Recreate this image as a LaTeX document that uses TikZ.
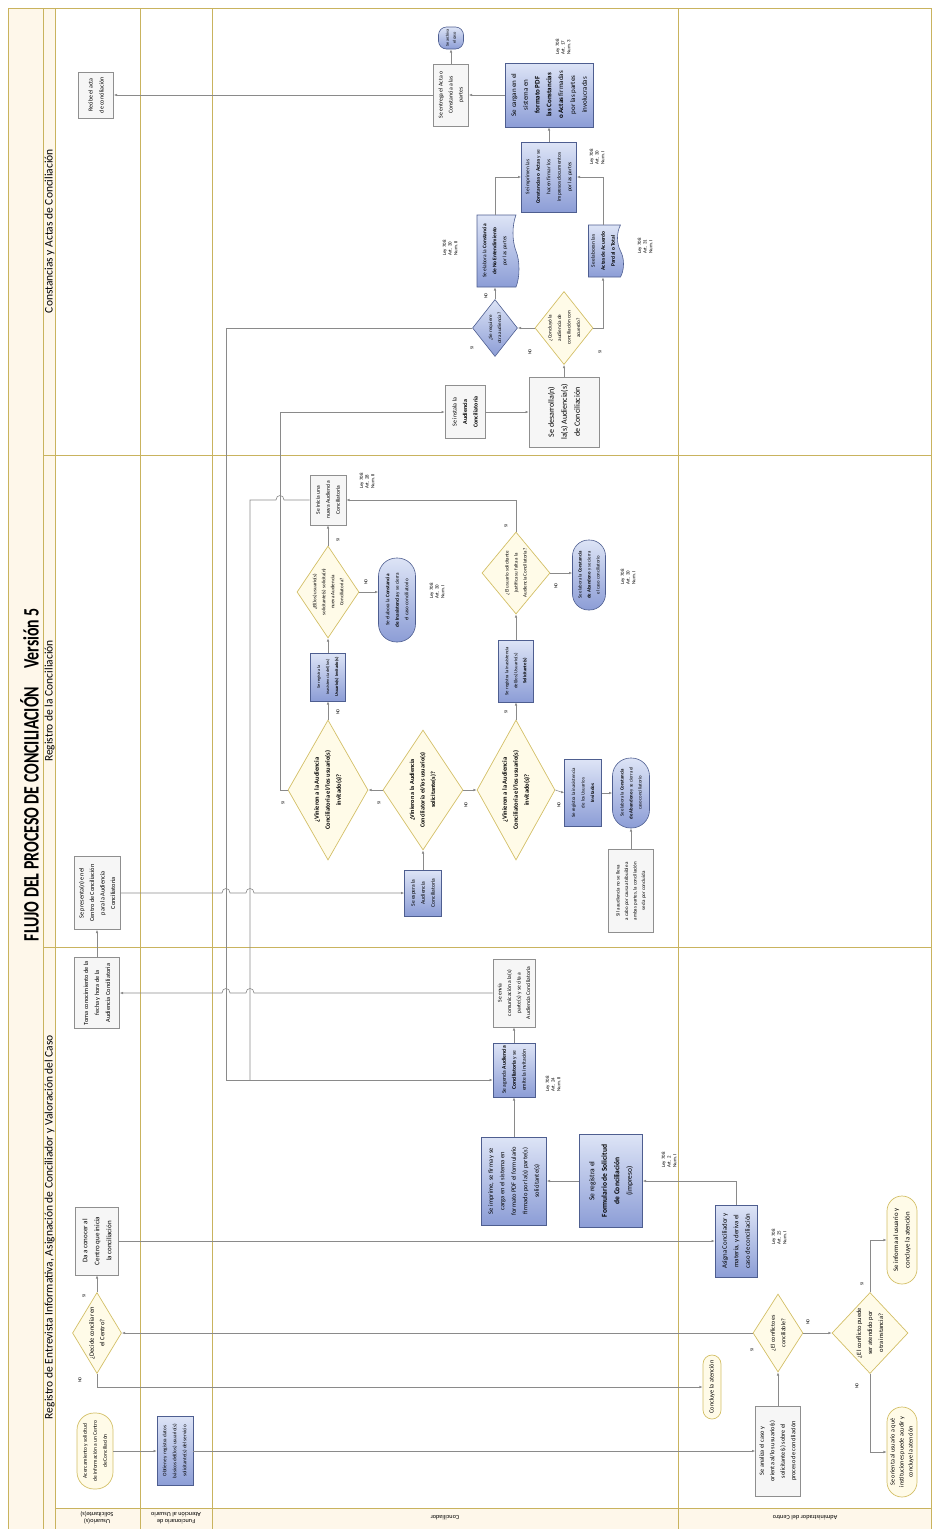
\documentclass[tikz,border=0pt]{standalone}
\usepackage{fontspec}
\setmainfont{Carlito}
\newfontfamily\titlefont{Carlito}[FakeStretch=0.72]
\usetikzlibrary{arrows.meta,shapes.geometric,shapes.symbols,calc}

\definecolor{lanec}{HTML}{C9B35E}
\definecolor{creamA}{HTML}{FEF7EA}
\definecolor{linec}{HTML}{8A8A8A}
\definecolor{bluelt}{HTML}{DDE4F6}
\definecolor{bluedk}{HTML}{8C9DD6}
\definecolor{bluebd}{HTML}{4E5E90}
\definecolor{graybd}{HTML}{8F8F8F}
\definecolor{grayfl}{HTML}{F6F6F6}
\definecolor{ybd}{HTML}{D3BF66}
\definecolor{yfl}{HTML}{FFFBE8}

\newcommand{\fsz}[2]{\fontsize{#1}{#2}\selectfont}

\tikzset{
  every node/.style={inner sep=1pt, align=center},
  rt/.style={rotate=90},
  sz/.style 2 args={minimum width=#1, minimum height=#2},
  bluebox/.style={rt, rectangle, draw=bluebd, line width=0.6pt, top color=bluelt, bottom color=bluedk},
  graybox/.style={rt, rectangle, draw=graybd, line width=0.6pt, fill=grayfl},
  blueterm/.style={bluebox, rounded corners=#1},
  yterm/.style={rt, rectangle, rounded corners=#1, draw=ybd, line width=0.7pt, fill=yfl},
  ydiam/.style={rt, diamond, draw=ybd, line width=0.7pt, fill=yfl, inner sep=0pt},
  bdiam/.style={rt, diamond, draw=bluebd, line width=0.6pt, top color=bluelt, bottom color=bluedk, inner sep=0pt},
  bluedoc/.style={rt, tape, tape bend top=none, tape bend bottom=in and out, tape bend height=6pt, draw=bluebd, line width=0.6pt, top color=bluelt, bottom color=bluedk},
  dtext/.style={rt, inner sep=0pt},
  yn/.style={rt, font=\fsz{4.5}{5}, inner sep=0pt},
  law/.style={rt, font=\fsz{4.9}{5.6}, align=left, inner sep=0pt},
  lane/.style={draw=lanec, line width=0.9pt},
  arr/.style={draw=linec, line width=0.6pt, -{Latex[length=3.2pt,width=2.6pt]}},
  conn/.style={draw=linec, line width=0.6pt},
}

\begin{document}
\begin{tikzpicture}[x=1pt,y=-1pt]
\useasboundingbox (0,0) rectangle (932,1529);

% ---------- swimlane frame ----------
\fill[creamA] (8,8) rectangle (55,1529);
\fill[creamA] (55,1508) rectangle (932,1529);
\draw[lane] (8,8) rectangle (931.5,1529);
\draw[lane] (43,8) -- (43,1529);
\draw[lane] (55,8) -- (55,1529);
\draw[lane] (140,8) -- (140,1529);
\draw[lane] (212,8) -- (212,1529);
\draw[lane] (678,8) -- (678,1529);
\draw[lane] (43,455) -- (932,455);
\draw[lane] (43,947) -- (932,947);
\draw[lane] (55,1508) -- (932,1508);

\node[rt, font=\titlefont\fontsize{22}{24}\selectfont\bfseries] (title) at (29.5,774.5)
  {FLUJO DEL PROCESO DE CONCILIACIÓN\hspace{18pt}Versión 5};
\node[rt, font=\fsz{11.5}{12}] (ph1) at (49.5,1227) {Registro de Entrevista Informativa, Asignación de Conciliador y Valoración del Caso};
\node[rt, font=\fsz{11.5}{12}] (ph2) at (49.5,701) {Registro de la Conciliación};
\node[rt, font=\fsz{11.5}{12}] (ph3) at (49.5,231) {Constancias y Actas de Conciliación};

\node[rotate=180, font=\fsz{6.3}{7.5}] (ln1) at (97,1518) {Usuario(s)\\Solicitante(s)};
\node[rotate=180, font=\fsz{6.3}{7.5}] (ln2) at (176,1518) {Funcionario de\\Atención al Usuario};
\node[rotate=180, font=\fsz{6.3}{7.5}] (ln3) at (445,1518) {Conciliador};
\node[rotate=180, font=\fsz{6.3}{7.5}] (ln4) at (805,1518) {Administrador del Centro};

% ---------- Registro de Entrevista ----------
\node[yterm=17, sz={76}{36}, font=\fsz{5.5}{10}] (U1) at (95,1451) {Acercamiento y solicitud\\de información a un Centro\\de Conciliación};
\node[bluebox, sz={69}{36}, font=\fsz{5.2}{10}] (F1) at (175,1451) {Obtiene y registra datos\\básicos del(los) usuario(s)\\solicitante(s) del servicio};
\node[graybox, sz={90}{45}, font=\fsz{6.3}{10.5}] (A1) at (778,1451) {Se analiza el caso y\\orienta al/los usuario(s)\\solicitante(s) sobre el\\proceso de conciliación};
\node[ydiam, sz={78}{50}] (A2) at (778,1333) {};
\node[dtext, font=\fsz{6}{10.5}] (A2t) at (A2) {¿El conflicto es\\conciliable?};
\node[ydiam, sz={81}{76}] (A3) at (870,1333) {};
\node[dtext, font=\fsz{6.5}{11}] (A3t) at (A3) {¿El conflicto puede\\ser atendido por\\otra instancia?};
\node[yterm=15, sz={88}{30}, font=\fsz{6.8}{11.5}] (A4) at (902,1240) {Se informa al usuario y\\concluye la atención};
\node[yterm=15, sz={90}{30}, font=\fsz{6.2}{9}] (A5) at (902,1452) {Se orienta al usuario a qué\\instituciones puede acudir y\\concluye la atención};
\node[yterm=9, sz={64}{18}, font=\fsz{6.3}{8}] (A6) at (712,1387) {Concluye la atención};
\node[bluebox, sz={72}{42}, font=\fsz{6.8}{11.5}] (A7) at (736,1241) {Asigna Conciliador y\\materia, y deriva el\\caso de conciliación};
\node[ydiam, sz={81}{49}] (U2) at (97,1333) {};
\node[dtext, font=\fsz{6.5}{10.5}] (U2t) at (U2) {¿Decide conciliar en\\el Centro?};
\node[graybox, sz={68}{43}, font=\fsz{7}{12}] (U3) at (97,1241) {Da a conocer al\\Centro que inicia\\la conciliación};
\node[bluebox, sz={93}{63}, font=\fsz{7.5}{12.5}] (C2) at (611,1181) {Se registra el\\\textbf{Formulario de Solicitud}\\\textbf{de Conciliación}\\(impreso)};
\node[bluebox, sz={88}{65}, font=\fsz{6.5}{11.5}] (C1) at (514,1181) {Se imprime, se firma y se\\carga en el sistema en\\formato PDF el formulario\\firmado por la(s) parte(s)\\solicitante(s)};
\node[bluebox, sz={54}{42}, font=\fsz{5.6}{10}] (C3) at (514,1070) {Se agenda \textbf{Audiencia}\\\textbf{Conciliatoria} y se\\emite la invitación};
\node[graybox, sz={68}{42}, font=\fsz{5.6}{9.5}] (C4) at (514,993) {Se envía\\comunicación a la(s)\\parte(s) y se cita a\\Audiencia Conciliatoria};
\node[graybox, sz={71}{45}, font=\fsz{6.3}{11}] (U4) at (97,993) {Toma conocimiento de la\\fecha y hora de la\\Audiencia Conciliatoria};
\node[graybox, sz={73}{46}, font=\fsz{6.3}{10.5}] (U5) at (97,893) {Se presenta(n) en el\\Centro de Conciliación\\para la Audiencia\\Conciliatoria};

% ---------- Registro de la Conciliación ----------
\node[bluebox, sz={46}{37}, font=\fsz{5.6}{10}] (R1) at (423,893) {Se espera la\\Audiencia\\Conciliatoria};
\node[ydiam, sz={120}{80}] (D1) at (423,790) {};
\node[dtext, font=\fsz{6.2}{10.5}\bfseries] (D1t) at (D1) {¿Vinieron a la Audiencia\\Conciliatoria el/los usuario(s)\\solicitante(s)?};
\node[ydiam, sz={140}{80}] (D2) at (328,790) {};
\node[dtext, font=\fsz{6.5}{11}\bfseries] (D2t) at (D2) {¿Vinieron a la Audiencia\\Conciliatoria el/los usuario(s)\\invitado(s)?};
\node[ydiam, sz={140}{78}] (D3) at (516,790) {};
\node[dtext, font=\fsz{6.5}{11}\bfseries] (D3t) at (D3) {¿Vinieron a la Audiencia\\Conciliatoria el/los usuario(s)\\invitado(s)?};
\node[bluebox, sz={48}{35}, font=\fsz{4.4}{9}] (InasInv) at (328,677) {Se registra la\\inasistencia del(los)\\\textbf{Usuario(s) Invitado(s)}};
\node[ydiam, sz={92}{62}] (D4) at (328,592) {};
\node[dtext, font=\fsz{5}{9}] (D4t) at (D4) {¿El(los) usuario(s)\\solicitante(s) solicita(n)\\nueva Audiencia\\Conciliatoria?};
\node[blueterm=18, sz={84}{37}, font=\fsz{5.2}{9.5}] (TermInas) at (397,600) {Se elabora la \textbf{Constancia}\\\textbf{de Inasistencia} y se cierra\\el caso conciliatorio};
\node[graybox, sz={50}{36}, font=\fsz{5.6}{10}] (NuevaAud) at (328,500) {Se inicia una\\nueva Audiencia\\Conciliatoria};
\node[bluebox, sz={62}{35}, font=\fsz{4.8}{9}] (InasSol) at (516,671) {Se registra la inasistencia\\del(los) Usuario(s)\\\textbf{Solicitante(s)}};
\node[ydiam, sz={82}{68}] (D7) at (516,573) {};
\node[dtext, font=\fsz{5}{9}] (D7t) at (D7) {¿El usuario solicitante\\justifica su falta a la\\Audiencia Conciliatoria?};
\node[blueterm=16, sz={70}{33}, font=\fsz{4.8}{9}] (TermAb1) at (589,575) {Se elabora la \textbf{Constancia}\\\textbf{de Abandono} y se cierra\\el caso conciliatorio};
\node[bluebox, sz={67}{37}, font=\fsz{4.9}{9.5}] (InasInvB) at (583,793) {Se registra la inasistencia\\de los Usuarios\\\textbf{Invitados}};
\node[blueterm=18, sz={70}{37}, font=\fsz{4.8}{9}] (TermAb2) at (631,793) {Se elabora la \textbf{Constancia}\\\textbf{de Abandono} y se cierra el\\caso conciliatorio};
\node[graybox, sz={83}{45}, font=\fsz{5}{8.5}] (Note) at (631,891) {Si la audiencia no se lleva\\a cabo por causa atribuible a\\ambas partes, la conciliación\\se da por concluida};

% ---------- Constancias y Actas ----------
\node[graybox, sz={53}{40}, font=\fsz{6}{10.5}] (Instala) at (465,412) {Se instala la\\\textbf{Audiencia}\\\textbf{Conciliatoria}};
\node[graybox, sz={70}{70}, font=\fsz{8}{13}] (Desarrolla) at (564,412) {Se desarrolla(n)\\la(s) Audiencia(s)\\de Conciliación};
\node[ydiam, sz={73}{58}] (D6) at (564,328) {};
\node[dtext, font=\fsz{5.2}{9.5}] (D6t) at (D6) {¿Concluyó la\\audiencia de\\conciliación con\\acuerdo?};
\node[bdiam, sz={57}{45}] (D5) at (495,328) {};
\node[dtext, font=\fsz{5}{9}] (D5t) at (D5) {¿Se requiere\\otra audiencia?};
\node[bluedoc, sz={72}{42}, font=\fsz{5.4}{10}] (Doc1) at (495,251) {Se elabora la \textbf{Constancia}\\\textbf{de No Entendimiento}\\por las partes};
\node[bluedoc, sz={52}{35}, font=\fsz{5.4}{10}] (Doc2) at (603,251) {Se elaboran las\\\textbf{Actas de Acuerdo}\\\textbf{Parcial o Total}};
\node[bluebox, sz={70}{55}, font=\fsz{5.4}{10.5}] (Imprimen) at (549,177) {Se imprimen las\\\textbf{Constancias o Actas} y se\\hacen firmar los\\impresos documentos\\por las partes};
\node[bluebox, sz={64}{88}, font=\fsz{7}{11.8}] (Cargan) at (549,95) {Se cargan en el\\sistema en\\\textbf{formato PDF}\\\textbf{las Constancias}\\\textbf{o Actas} firmadas\\por las partes\\involucradas};
\node[graybox, sz={62}{35}, font=\fsz{5.8}{10}] (Entrega) at (451,95) {Se entrega el Acta o\\Constancia a las\\partes};
\node[blueterm=8, sz={22}{25}, font=\fsz{4.3}{7}] (Archiva) at (451,38) {Se archiva\\el caso};
\node[graybox, sz={46}{35}, font=\fsz{6}{11}] (U6) at (96,95) {Recibe el acta\\de conciliación};

% ---------- legal references ----------
\node[law] (L1) at (669,1160) {Ley 708\\Art. 2\\Num. I};
\node[law] (L2) at (553,1084) {Ley 708\\Art. 24\\Num. II};
\node[law] (L3) at (779,1237) {Ley 708\\Art. 25\\Num. I};
\node[law] (L4) at (437,591) {Ley 708\\Art. 30\\Num. I};
\node[law] (L5) at (628,577) {Ley 708\\Art. 30\\Num. I};
\node[law] (L6) at (367,481) {Ley 708\\Art. 28\\Num. II};
\node[law] (L7) at (450,248) {Ley 708\\Art. 30\\Num. II};
\node[law] (L8) at (645,246) {Ley 708\\Art. 31\\Num. I};
\node[law] (L9) at (597,157) {Ley 708\\Art. 30\\Num. I};
\node[law] (L10) at (563,47) {Ley 708\\Art. 17\\Num. 3};

% ---------- decision labels ----------
\node[yn] (lU2s) at (84,1296) {SI};
\node[yn] (lU2n) at (80,1380) {NO};
\node[yn] (lA2s) at (752,1350) {SI};
\node[yn] (lA2n) at (808,1322) {NO};
\node[yn] (lA3s) at (862,1284) {SI};
\node[yn] (lA3n) at (857,1386) {NO};
\node[yn] (lD1s) at (379,803) {SI};
\node[yn] (lD1n) at (466,805) {NO};
\node[yn] (lD2s) at (283,803) {SI};
\node[yn] (lD2n) at (338,712) {NO};
\node[yn] (lD3s) at (506,712) {SI};
\node[yn] (lD3n) at (559,805) {NO};
\node[yn] (lD4s) at (338,540) {SI};
\node[yn] (lD4n) at (366,582) {NO};
\node[yn] (lD7s) at (506,526) {SI};
\node[yn] (lD7n) at (556,586) {NO};
\node[yn] (lD5s) at (472,348) {SI};
\node[yn] (lD5n) at (486,296) {NO};
\node[yn] (lD6n) at (530,352) {NO};
\node[yn] (lD6s) at (600,352) {SI};

% ---------- connectors ----------
\coordinate (k1) at (280,412);
\coordinate (m1) at (226,1080);
\coordinate (m2) at (250,1080);

\draw[arr] (U1.south) -- (F1.north);
\draw[arr] (F1.south) -- (A1.north);
\draw[arr] (A1.east) -- (A2.west);
\draw[arr] (A2.north) -- (U2.south);
\draw[arr] (A2.south) -- (A3.north);
\draw[arr] (A3.east) |- (A4.north);
\draw[arr] (A3.west) |- (A5.north);
\draw[arr] (U2.east) -- (U3.west);
\draw[arr] (U2.west) |- (A6.north);
\draw[arr] (U3.south) -- (A7.north);
\draw[arr] (A7.east) |- (C2.south);
\draw[arr] (C2.north) -- (C1.south);
\draw[arr] (C1.east) -- (C3.west);
\draw[arr] (C3.east) -- (C4.west);
\draw[arr] (C4.north) -- (254,993) .. controls (254,987) and (246,987) .. (246,993)
  -- (230,993) .. controls (230,987) and (222,987) .. (222,993) -- (U4.south);
\draw[arr] (U4.east) -- (U5.west);
\draw[arr] (U5.south) -- (222,893) .. controls (222,887) and (230,887) .. (230,893)
  -- (246,893) .. controls (246,887) and (254,887) .. (254,893) -- (R1.north);
\draw[arr] (R1.east) -- (D1.west);
\draw[arr] (D1.north) -- (D2.south);
\draw[arr] (D1.south) -- (D3.north);
\draw[arr] (D2.north) -| (k1) -- (Instala.north);
\draw[arr] (D2.east) -- (InasInv.west);
\draw[arr] (InasInv.east) -- (D4.west);
\draw[arr] (D4.east) -- (NuevaAud.west);
\draw[arr] (D4.south) -- (D4.south -| TermInas.north);
\draw[arr] (D3.east) -- (InasSol.west);
\draw[arr] (InasSol.east) -- (D7.west);
\draw[arr] (D7.east) |- (NuevaAud.south);
\draw[arr] (D7.south) -- (D7.south -| TermAb1.north);
\draw[arr] (D3.south) -- (InasInvB.north);
\draw[arr] (InasInvB.south) -- (TermAb2.north);
\draw[arr] (Note.east) -- (TermAb2.west);
\draw[conn] (NuevaAud.north) -- (284,500) .. controls (284,494) and (276,494) .. (276,500)
  -- (250,500) -- (m2);
\draw[arr] (D5.north) -| (m1) -- (m1 -| C3.north);
\draw[arr] (Instala.south) -- (Desarrolla.north);
\draw[arr] (Desarrolla.east) -- (D6.west);
\draw[arr] (D6.north) -- (D5.south);
\draw[arr] (D6.south) -| (Doc2.west);
\draw[arr] (D5.east) -- (Doc1.west);
\draw[arr] (Doc1.east) |- (Imprimen.north);
\draw[arr] (Doc2.east) |- (Imprimen.south);
\draw[arr] (Imprimen.east) -- (Cargan.west);
\draw[arr] (Cargan.north) -- (Entrega.south);
\draw[arr] (Entrega.north) -- (U6.south);
\draw[arr] (Entrega.east) -- (Archiva.west);
\end{tikzpicture}
\end{document}
